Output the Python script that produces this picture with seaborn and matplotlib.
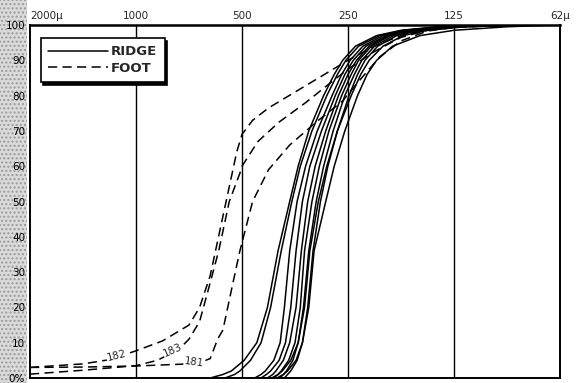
import matplotlib
matplotlib.use("Agg")
import matplotlib.pyplot as plt
import seaborn as sns
import pandas as pd
from matplotlib.patches import Rectangle
from matplotlib.lines import Line2D

sns.set_style("white")
plt.rcParams['font.family'] = ['DejaVu Sans']

# grain size in phi units (-1 = 2000 µ ... 4 = 62 µ), cumulative percent
size_phi_ticks = [-1, 0, 1, 2, 3, 4]
size_labels = ["2000µ", "1000", "500", "250", "125", "62µ"]
pct_ticks = [0, 10, 20, 30, 40, 50, 60, 70, 80, 90, 100]
pct_labels = ["0%", "10", "20", "30", "40", "50", "60", "70", "80", "90", "100"]

# RIDGE samples: phi at which each cumulative percent level is reached
ridge_levels = [0, 1, 2, 5, 10, 20, 36, 50, 60, 70, 80, 86, 90, 94, 97, 98.5, 99.5, 100]
ridge_a = [0.70, 0.82, 0.90, 1.02, 1.14, 1.24, 1.34, 1.45, 1.53, 1.63, 1.77, 1.87, 1.95, 2.07, 2.27, 2.50, 2.85, 3.40]
ridge_b = [0.84, 0.93, 0.98, 1.08, 1.18, 1.27, 1.37, 1.47, 1.55, 1.66, 1.80, 1.90, 1.98, 2.10, 2.30, 2.52, 2.88, 3.45]
ridge_c = [1.12, 1.18, 1.22, 1.30, 1.36, 1.40, 1.45, 1.52, 1.60, 1.71, 1.85, 1.94, 2.02, 2.14, 2.33, 2.55, 2.90, 3.50]
ridge_d = [1.18, 1.23, 1.27, 1.35, 1.41, 1.46, 1.51, 1.57, 1.64, 1.75, 1.88, 1.97, 2.05, 2.17, 2.36, 2.58, 2.92, 3.50]
ridge_e = [1.24, 1.29, 1.32, 1.39, 1.45, 1.51, 1.56, 1.62, 1.69, 1.79, 1.91, 2.00, 2.08, 2.20, 2.38, 2.60, 2.95, 3.55]
ridge_f = [1.30, 1.34, 1.37, 1.44, 1.50, 1.55, 1.59, 1.66, 1.73, 1.82, 1.94, 2.03, 2.10, 2.22, 2.40, 2.62, 2.97, 3.55]
ridge_g = [1.36, 1.39, 1.42, 1.48, 1.53, 1.58, 1.63, 1.70, 1.77, 1.86, 1.97, 2.06, 2.13, 2.25, 2.43, 2.65, 3.00, 3.60]
ridge_h = [1.40, 1.43, 1.46, 1.52, 1.57, 1.62, 1.67, 1.74, 1.81, 1.90, 2.01, 2.09, 2.16, 2.28, 2.46, 2.68, 3.05, 3.60]
ridge_i = [1.28, 1.34, 1.38, 1.46, 1.53, 1.59, 1.64, 1.72, 1.80, 1.90, 2.03, 2.12, 2.20, 2.33, 2.52, 2.75, 3.10, 3.70]
ridge_j = [1.33, 1.39, 1.43, 1.51, 1.57, 1.63, 1.68, 1.79, 1.87, 1.97, 2.09, 2.18, 2.27, 2.42, 2.68, 3.00, 3.50, 3.95]
ridge_curves = [ridge_a, ridge_b, ridge_c, ridge_d, ridge_e, ridge_f, ridge_g, ridge_h, ridge_i, ridge_j]

# FOOT samples (phi, percent)
foot_182_phi = [-1.0, -0.5, -0.25, 0.0, 0.25, 0.5, 0.6, 0.7, 0.75, 0.85, 0.95, 1.0, 1.1, 1.25, 1.5, 1.75, 2.0, 2.25, 2.5, 2.75, 3.0, 3.5, 4.0]
foot_182_pct = [3.0, 4.0, 5.2, 7.7, 10.5, 15.0, 20.0, 29.0, 36.0, 50.0, 64.0, 69.0, 73.0, 76.5, 81.0, 85.5, 90.0, 94.0, 97.0, 98.8, 99.5, 99.9, 100.0]
foot_183_phi = [-1.0, -0.5, 0.0, 0.2, 0.4, 0.5, 0.6, 0.7, 0.78, 0.88, 0.98, 1.0, 1.15, 1.35, 1.6, 1.85, 2.0, 2.25, 2.5, 2.75, 3.0, 3.5, 4.0]
foot_183_pct = [1.1, 2.2, 3.5, 5.0, 8.0, 11.0, 16.0, 27.0, 36.0, 50.0, 58.0, 60.0, 67.0, 72.5, 78.0, 84.0, 87.5, 92.5, 96.5, 98.5, 99.4, 99.9, 100.0]
foot_181_phi = [-1.0, -0.5, 0.0, 0.5, 0.62, 0.70, 0.77, 0.82, 0.915, 0.98, 1.1, 1.25, 1.45, 1.7, 1.95, 2.1, 2.3, 2.5, 2.75, 3.0, 3.5, 4.0]
foot_181_pct = [3.0, 3.1, 3.4, 4.0, 4.6, 5.5, 11.0, 13.6, 27.0, 36.0, 50.0, 59.0, 66.0, 72.5, 78.5, 84.0, 91.0, 95.5, 98.3, 99.3, 99.9, 100.0]

rows = []
for k, phis in enumerate(ridge_curves):
    for p, v in zip(phis, ridge_levels):
        rows.append(dict(phi=p, pct=v, sample=f"r{k}", group="RIDGE"))
for name, phis, pcts in [("182", foot_182_phi, foot_182_pct),
                         ("183", foot_183_phi, foot_183_pct),
                         ("181", foot_181_phi, foot_181_pct)]:
    for p, v in zip(phis, pcts):
        rows.append(dict(phi=p, pct=v, sample=name, group="FOOT"))
df = pd.DataFrame(rows)

W, H = 579, 383
fig = plt.figure(figsize=(W / 100, H / 100), dpi=100)
fig.patch.set_facecolor("white")
# stippled scan margin
fig.add_artist(Rectangle((0, 0), 27 / W, 1, transform=fig.transFigure,
                         facecolor="#dadada", edgecolor="#9a9a9a",
                         hatch="....", lw=0, zorder=-5))

ax = fig.add_axes([30 / W, 1 - 378 / H, 530 / W, 353 / H])
ax.set_facecolor("white")

for g, ls in [("RIDGE", "-"), ("FOOT", (0, (6, 3.5)))]:
    sub = df[df.group == g]
    for s, d in sub.groupby("sample", sort=False):
        sns.lineplot(data=d, x="phi", y="pct", ax=ax, color="black", lw=1.1,
                     linestyle=ls, estimator=None, sort=False, legend=False)

for v in [0, 1, 2, 3]:
    ax.axvline(v, color="black", lw=1.0, zorder=1)

ax.set_xlim(-1, 4)
ax.set_ylim(0, 100)
ax.set_xlabel("")
ax.set_ylabel("")
ax.xaxis.tick_top()
ax.set_xticks(size_phi_ticks)
ax.set_xticklabels(size_labels, fontsize=7.5)
ax.tick_params(axis="x", length=0, pad=3)
xl = ax.get_xticklabels()
xl[0].set_horizontalalignment("left")
xl[0].set_x(-1.03)
ax.set_yticks(pct_ticks)
ax.set_yticklabels(pct_labels, fontsize=7.5)
ax.tick_params(axis="y", length=3, width=1, direction="out", pad=0.5, colors="black")
for sp in ax.spines.values():
    sp.set_color("black")
    sp.set_linewidth(1.4)
ax.spines["top"].set_linewidth(1.8)

# curve labels
for txt, x, y, rot in [("182", -0.18, 6.2, 14), ("183", 0.35, 7.8, 24), ("181", 0.55, 4.3, -8)]:
    ax.text(x, y, txt, fontsize=7.5, rotation=rot, ha="center", va="center",
            bbox=dict(facecolor="white", edgecolor="none", pad=0.5), zorder=5)

handles = [Line2D([], [], color="black", lw=1.1, linestyle="-"),
           Line2D([], [], color="black", lw=1.1, linestyle=(0, (6, 3.5)))]
leg = ax.legend(handles, ["RIDGE", "FOOT"], loc="upper left",
                bbox_to_anchor=(10.5 / 530, 1 - 13 / 353), frameon=True,
                fancybox=False, edgecolor="black", framealpha=1,
                shadow={"color": "black", "alpha": 1, "ox": 2, "oy": -2},
                prop={"size": 9.5, "weight": "bold"}, handlelength=4.6,
                handletextpad=0.2, borderpad=0.55, labelspacing=0.25,
                borderaxespad=0)
leg.get_frame().set_linewidth(1.2)

fig.savefig("out.png", dpi=100)
